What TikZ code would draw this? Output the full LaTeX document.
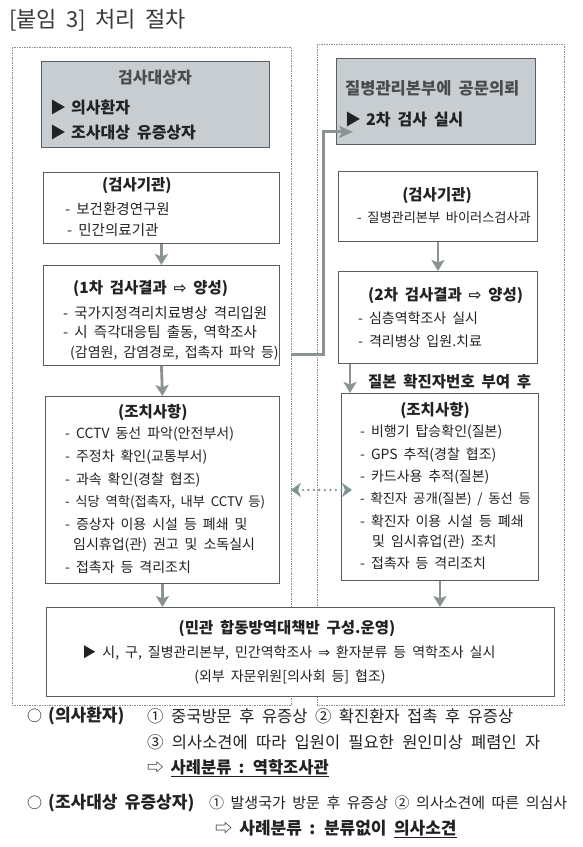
\documentclass[tikz,border=0pt]{standalone}
\usepackage{fontspec}
\setmainfont{Noto Sans CJK KR}[WordSpace=1.9]
\newfontfamily\djv{DejaVu Sans}
\usetikzlibrary{arrows.meta,calc}
\definecolor{boxgray}{HTML}{C7CDD0}
\definecolor{bordergray}{HTML}{5A5E60}
\definecolor{arrgray}{HTML}{8A9294}
\definecolor{txt}{HTML}{222222}
\definecolor{titlegray}{HTML}{484C4E}
\definecolor{framegray}{HTML}{8C8C8C}
\definecolor{dotgray}{HTML}{7F9492}
\definecolor{ttl}{HTML}{3A3A3A}
\newcommand\fitline[2]{\makebox[#1][s]{\spaceskip=3pt plus 30pt minus 1pt #2}}
\tikzset{
  box/.style={draw=bordergray, line width=0.9pt, fill=white, anchor=north west, inner sep=0pt},
  graybox/.style={draw=bordergray, line width=0.9pt, fill=boxgray, anchor=north west, inner sep=0pt},
  frame/.style={draw=framegray, line width=0.5pt, dash pattern=on 1.5pt off 1pt},
  tx/.style={anchor=west, inner sep=0pt, text=txt},
  t/.style={tx, font=\fontsize{14}{16}\selectfont},
  tl/.style={tx, font=\fontsize{14.5}{17}\selectfont},
  tb/.style={tx, font=\fontsize{15.5}{18}\selectfont\bfseries},
  tbc/.style={tb, anchor=center},
  tcc/.style={t, anchor=center},
  gtitle/.style={anchor=center, inner sep=0pt, text=titlegray, font=\fontsize{16}{19}\selectfont\bfseries},
  gitem/.style={tx, font=\fontsize{16}{19}\selectfont\bfseries},
  gitemg/.style={anchor=west, inner sep=0pt, text=titlegray, font=\fontsize{16.5}{19}\selectfont\bfseries},
  nt/.style={tx, font=\fontsize{15}{18}\selectfont},
  ntl/.style={tx, font=\fontsize{16.5}{19}\selectfont},
  ntb/.style={tx, font=\fontsize{17}{20}\selectfont\bfseries},
  darr/.style={draw=arrgray, line width=2.8pt, -{Stealth[length=11pt,width=13pt,inset=2.5pt]}},
  conn/.style={draw=arrgray, line width=3pt, line join=miter, -{Stealth[length=14pt,width=12pt,inset=3.5pt]}},
  dotarr/.style={draw=dotgray, line width=2.6pt, dash pattern=on 0pt off 5.5pt, line cap=round,
    {Stealth[length=10pt,width=14pt,inset=3pt]}-{Stealth[length=10pt,width=14pt,inset=3pt]}}
}
\begin{document}
\begin{tikzpicture}[x=1pt,y=-1pt]
\fill[white] (0,0) rectangle (583,847);
\useasboundingbox (0,0) rectangle (583,847);

\node[tx, text=ttl] (title) at (9,20) {\fontsize{22}{26}\selectfont [붙임 3] 처리 절차};

% frames
\draw[frame] (12,47) rectangle (291,705);
\draw[frame] (317,44) rectangle (564,705);

% left gray box
\node[graybox, minimum width=228pt, minimum height=86pt] (lg) at (41,61) {};
\node[gtitle] (lgt) at (155,78) {검사대상자};
\node[gitem] (lg1) at (50,107) {▶\hspace{5pt}의사환자};
\node[gitem] (lg2) at (50,132) {▶\hspace{5pt}조사대상 유증상자};

% right gray box
\node[graybox, minimum width=199pt, minimum height=86pt] (rg) at (336,58) {};
\node[gitemg] (rgt) at (345,88) {질병관리본부에 공문의뢰};
\node[gitem] (rg1) at (345,119) {▶\hspace{5pt}2차 검사 실시};

% left boxes
\node[box, minimum width=236pt, minimum height=71pt] (lb1) at (43,172) {};
\node[tb] (lb1t) at (102,186) {(검사기관)};
\node[tl] (lb11) at (65,209) {- 보건환경연구원};
\node[tl] (lb12) at (67,230) {- 민간의료기관};

\node[box, minimum width=236pt, minimum height=100pt] (lb2) at (43,265) {};
\node[tb] (lb2t) at (73,289) {(1차 검사결과 {\djv ⇨} 양성)};
\node[tl] (lb21) at (63,313) {- 국가지정격리치료병상 격리입원};
\node[tl] (lb22) at (63,333) {- 시 즉각대응팀 출동, 역학조사};
\node[t] (lb23) at (70,353) {(감염원, 감염경로, 접촉자 파악 등)};

\node[box, minimum width=234pt, minimum height=187pt] (lb3) at (45,396) {};
\node[tb] (lb3t) at (118,413) {(조치사항)};
\node[t] (lb31) at (65,434) {- CCTV 동선 파악(안전부서)};
\node[t] (lb32) at (65,457) {- 주정차 확인(교통부서)};
\node[t] (lb33) at (65,480) {- 과속 확인(경찰 협조)};
\node[tx, font=\fontsize{13.3}{16}\selectfont] (lb34) at (65,502) {- 식당 역학(접촉자, 내부 CCTV 등)};
\node[t] (lb35) at (65,524) {- 증상자 이용 시설 등 폐쇄 및};
\node[t] (lb36) at (73,545) {임시휴업(관) 권고 및 소독실시};
\node[t] (lb37) at (65,567) {- 접촉자 등 격리조치};

% right boxes
\node[box, minimum width=199pt, minimum height=70pt] (rb1) at (338,171) {};
\node[tbc] (rb1t) at (437,196) {(검사기관)};
\node[tx, font=\fontsize{13.2}{16}\selectfont] (rb11) at (357,218) {- 질병관리본부 바이러스검사과};

\node[box, minimum width=199pt, minimum height=92pt] (rb2) at (338,271) {};
\node[tb] (rb2t) at (368,296) {(2차 검사결과 {\djv ⇨} 양성)};
\node[t] (rb21) at (358,318) {- 심층역학조사 실시};
\node[t] (rb22) at (358,341) {- 격리병상 입원.치료};

\node[tb] (lbl) at (368,382) {질본 확진자번호 부여 후};

\node[box, minimum width=197pt, minimum height=187pt] (rb3) at (341,393) {};
\node[tbc] (rb3t) at (435,411) {(조치사항)};
\node[t] (rb31) at (360,432) {- 비행기 탑승확인(질본)};
\node[t] (rb32) at (360,455) {- GPS 추적(경찰 협조)};
\node[t] (rb33) at (360,477) {- 카드사용 추적(질본)};
\node[tx, font=\fontsize{13.4}{16}\selectfont] (rb34) at (360,499) {- 확진자 공개(질본) / 동선 등};
\node[t] (rb35) at (360,521) {- 확진자 이용 시설 등 폐쇄};
\node[t] (rb36) at (372,542) {및 임시휴업(관) 조치};
\node[t] (rb37) at (360,563) {- 접촉자 등 격리조치};

% bottom box
\node[box, minimum width=508pt, minimum height=89pt] (bb) at (46,607) {};
\node[tbc] (bbt) at (287,628) {(민관 합동방역대책반 구성.운영)};
\node[tcc] (bb1) at (289,653) {▶ 시, 구, 질병관리본부, 민간역학조사 {\djv ⇒} 환자분류 등 역학조사 실시};
\node[tcc] (bb2) at (290,677) {(외부 자문위원[의사회 등] 협조)};

% arrows
\draw[darr] (lb1.south) -- (lb2.north);
\draw[darr] (lb2.south) -- (lb3.north);
\draw[darr] (rb1.south) -- (rb2.north);
\coordinate (ra) at ($(rb2.south west)+(12,0)$);
\draw[darr] (ra) -- (ra |- rb3.north);
\draw[darr] (lb3.south) -- (lb3.south |- bb.north);
\draw[darr] (rb3.south) -- (rb3.south |- bb.north);

\coordinate (c1) at ($(lb2.south east)+(11,-11)$);
\draw[conn] (c1) -| ($(rg.south west)+(-13,-13)$) -- ($(rg.south west)+(17,-13)$);

\draw[dotarr, shorten <=11pt, shorten >=-11pt] (lb3.east) -- (lb3.east -| rb3.west);

% notes
\node[nt] (n1o) at (27,716) {○};
\node[ntb] (n1a) at (48,716) {(의사환자)};
\node[ntl] (n1b) at (147,716) {\fitline{366pt}{① 중국방문 후 유증상 ② 확진환자 접촉 후 유증상}};
\node[ntl] (n2) at (147,742) {\fitline{393pt}{③ 의사소견에 따라 입원이 필요한 원인미상 폐렴인 자}};
\node[ntl] (n3) at (147,768) {⇨ {\bfseries\underline{사례분류 : 역학조사관}}};
\node[nt] (n4o) at (27,803) {○};
\node[ntb] (n4a) at (48,803) {(조사대상 유증상자)};
\node[nt] (n4b) at (209,803) {\fitline{358pt}{① 발생국가 방문 후 유증상 ② 의사소견에 따른 의심사}};
\node[tx, font=\fontsize{17}{20}\selectfont] (n5) at (215,829) {⇨ {\bfseries 사례분류 : 분류없이 \underline{의사소견}}};
\end{tikzpicture}
\end{document}
